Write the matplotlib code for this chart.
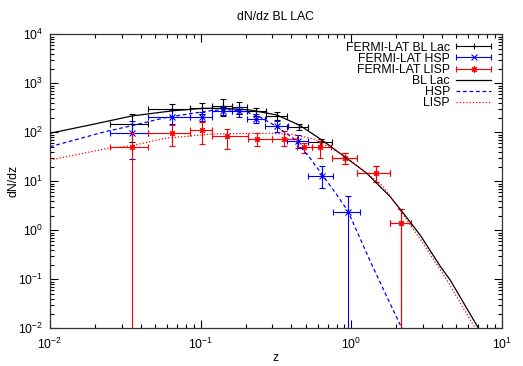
import numpy as np
import matplotlib
matplotlib.use("Agg")
import matplotlib.pyplot as plt
from matplotlib.lines import Line2D
from matplotlib.legend_handler import HandlerLine2D
from matplotlib.ticker import LogLocator

plt.rcParams["font.family"] = ["Liberation Sans", "DejaVu Sans"]
plt.rcParams["mathtext.fontset"] = "custom"
plt.rcParams["mathtext.rm"] = "Liberation Sans"
plt.rcParams["mathtext.it"] = "Liberation Sans:italic"

FONT_SIZE = 8.8

# FERMI-LAT measured dN/dz, all BL Lacs
bll_z = np.array([0.035, 0.065, 0.102, 0.14, 0.18, 0.235, 0.32, 0.45, 0.635, 0.915, 1.46, 2.15])
bll_zlo = np.array([0.025, 0.045, 0.085, 0.119, 0.161, 0.203, 0.27, 0.376, 0.518, 0.748, 1.096, 1.80])
bll_zhi = np.array([0.045, 0.085, 0.119, 0.161, 0.203, 0.27, 0.376, 0.518, 0.748, 1.096, 1.816, 2.50])
bll_n = np.array([148, 295, 318, 344, 321, 266, 220, 130, 62, 29.9, 14.6, 1.39])
bll_err_hi = np.array([88, 89, 84, 127, 89, 47, 45, 18, 11, 7.4, 5.9, 1.37])
bll_err_lo = np.array([85, 89, 84, 127, 89, 47, 45, 18, 11, 7.4, 4.8, 1.39])

# HSP subsample
hsp_z = np.array([0.035, 0.065, 0.102, 0.14, 0.18, 0.234, 0.32, 0.447, 0.636, 0.951])
hsp_zlo = np.array([0.025, 0.045, 0.085, 0.119, 0.161, 0.203, 0.268, 0.376, 0.52, 0.756])
hsp_zhi = np.array([0.045, 0.085, 0.119, 0.161, 0.203, 0.268, 0.38, 0.52, 0.763, 1.148])
hsp_n = np.array([99, 205, 205, 272, 266, 191, 134.5, 65, 12.8, 2.4])
hsp_err_hi = np.array([73, 76, 54, 56, 62, 45, 38, 23, 7.7, 2.6])
hsp_err_lo = np.array([70, 60, 37, 50, 60, 36, 32, 18, 5.5, 2.4])

# LISP subsample
lisp_z = np.array([0.035, 0.065, 0.102, 0.149, 0.237, 0.36, 0.487, 0.625, 0.915, 1.46, 2.15])
lisp_zlo = np.array([0.025, 0.045, 0.085, 0.119, 0.208, 0.297, 0.436, 0.551, 0.748, 1.096, 1.80])
lisp_zhi = np.array([0.045, 0.085, 0.119, 0.208, 0.297, 0.436, 0.551, 0.73, 1.096, 1.816, 2.50])
lisp_n = np.array([49.4, 98, 113, 84, 74.7, 74.7, 49.4, 49, 29.9, 14.6, 1.39])
lisp_err_hi = np.array([49, 41, 49, 31, 20, 32, 12, 19, 7.4, 5.9, 1.37])
lisp_err_lo = np.array([49.4, 46, 54, 39, 21, 23, 12, 19, 7.4, 4.8, 1.39])

# model curves
bll_curve_z = [0.01, 0.0184, 0.0349, 0.066, 0.104, 0.149, 0.213, 0.321, 0.458, 0.638,
               0.916, 1.271, 1.816, 2.226, 2.874, 3.903, 4.548, 7.01]
bll_curve_n = [95.5, 141, 215, 276, 309, 306, 285, 225.5, 137.6, 69.7,
               30.9, 14.6, 4.85, 2.22, 0.80, 0.185, 0.0968, 0.01]

hsp_curve_z = [0.01, 0.0232, 0.0349, 0.0581, 0.0851, 0.1187, 0.149, 0.2028, 0.2485, 0.321,
               0.4136, 0.5203, 0.638, 0.783, 0.951, 1.337, 1.726, 2.172]
hsp_curve_n = [50.8, 102.8, 136.4, 198.6, 239.7, 278.6, 292, 259.7, 205.2, 130.1,
               75.4, 32.8, 14.1, 5.91, 2.48, 0.236, 0.0441, 0.01]

lisp_curve_z = [0.01, 0.0244, 0.0349, 0.0581, 0.0851, 0.1187, 0.183, 0.2896, 0.4136, 0.5617,
                0.783, 0.936, 1.148, 1.639, 2.117, 2.874, 4.323, 6.67]
lisp_curve_n = [27.2, 47.2, 53.3, 75.4, 84.0, 92.3, 94.5, 95.4, 90.2, 73.0,
                42.5, 30.6, 18.7, 7.76, 2.54, 0.664, 0.0968, 0.01]

STAR = (8, 2, 0)  # gnuplot point type 3: + and x on top of each other

fig = plt.figure(figsize=(5.23, 3.66), dpi=100)
fig.subplots_adjust(left=0.0956, right=0.9593, bottom=0.103, top=0.9063)
ax = fig.add_subplot(111)
ax.set_xscale("log")
ax.set_yscale("log")


def draw_points(z, zlo, zhi, n, err_lo, err_hi, color, marker, zorder):
    ax.errorbar(
        z, n,
        xerr=[z - zlo, zhi - z],
        yerr=[err_lo, err_hi],
        ls="none", marker=marker, color=color, ms=4.5, mew=0.8,
        elinewidth=0.8, capsize=2.2, capthick=0.8, zorder=zorder,
    )


draw_points(bll_z, bll_zlo, bll_zhi, bll_n, bll_err_lo, bll_err_hi, "black", "+", 3)
draw_points(hsp_z, hsp_zlo, hsp_zhi, hsp_n, hsp_err_lo, hsp_err_hi, "#0000ff", "x", 4)
draw_points(lisp_z, lisp_zlo, lisp_zhi, lisp_n, lisp_err_lo, lisp_err_hi, "#ff0000", STAR, 5)

ax.plot(bll_curve_z, bll_curve_n, color="black", lw=0.9, zorder=6)
ax.plot(hsp_curve_z, hsp_curve_n, color="#0000ff", lw=0.9, ls=(0, (3.0, 2.2)), zorder=6)
ax.plot(lisp_curve_z, lisp_curve_n, color="#ff0000", lw=0.9, ls=(0, (1.0, 1.6)), zorder=6)

ax.set_xlim(0.01, 10)
ax.set_ylim(0.01, 1e4)
ax.xaxis.set_major_locator(LogLocator(base=10, numticks=10))
ax.yaxis.set_major_locator(LogLocator(base=10, numticks=10))
ax.xaxis.set_minor_locator(LogLocator(base=10, subs=np.arange(2, 10), numticks=20))
ax.yaxis.set_minor_locator(LogLocator(base=10, subs=np.arange(2, 10), numticks=20))
ax.tick_params(which="both", direction="in", top=True, right=True, labelsize=FONT_SIZE, width=0.8)
ax.tick_params(which="major", length=6, pad=5)
ax.tick_params(axis="x", which="major", pad=6)
ax.tick_params(which="minor", length=3)
for spine in ax.spines.values():
    spine.set_linewidth(0.9)
    spine.set_color("#333333")

ax.set_title("dN/dz BL LAC", fontsize=FONT_SIZE, pad=10)
ax.set_xlabel("z", fontsize=FONT_SIZE, labelpad=0)
ax.set_ylabel("dN/dz", fontsize=FONT_SIZE, labelpad=-1)

# legend samples in gnuplot style: sample line with end caps and the point in the middle
handles = []
handler_map = {}
for color, marker in [("black", "+"), ("#0000ff", "x"), ("#ff0000", STAR)]:
    bar = Line2D([], [], color=color, lw=0.8, marker="|", ms=5, mew=0.8)
    pt = Line2D([], [], color=color, ls="none", marker=marker, ms=4.5, mew=0.8)
    handler_map[pt] = HandlerLine2D(numpoints=1)
    handles.append((bar, pt))
handles.append(Line2D([], [], color="black", lw=0.9))
handles.append(Line2D([], [], color="#0000ff", lw=0.9, ls=(0, (3.0, 2.2))))
handles.append(Line2D([], [], color="#ff0000", lw=0.9, ls=(0, (1.0, 1.6))))
labels = ["FERMI-LAT BL Lac", "FERMI-LAT HSP", "FERMI-LAT LISP", "BL Lac", "HSP", "LISP"]

ax.legend(
    handles, labels, handler_map=handler_map, loc="upper right", frameon=False,
    markerfirst=False, numpoints=2, fontsize=FONT_SIZE, handlelength=3.4,
    handletextpad=0.25, labelspacing=-0.07, borderaxespad=0.35, borderpad=0.25,
)

fig.savefig("out.png", dpi=100)
